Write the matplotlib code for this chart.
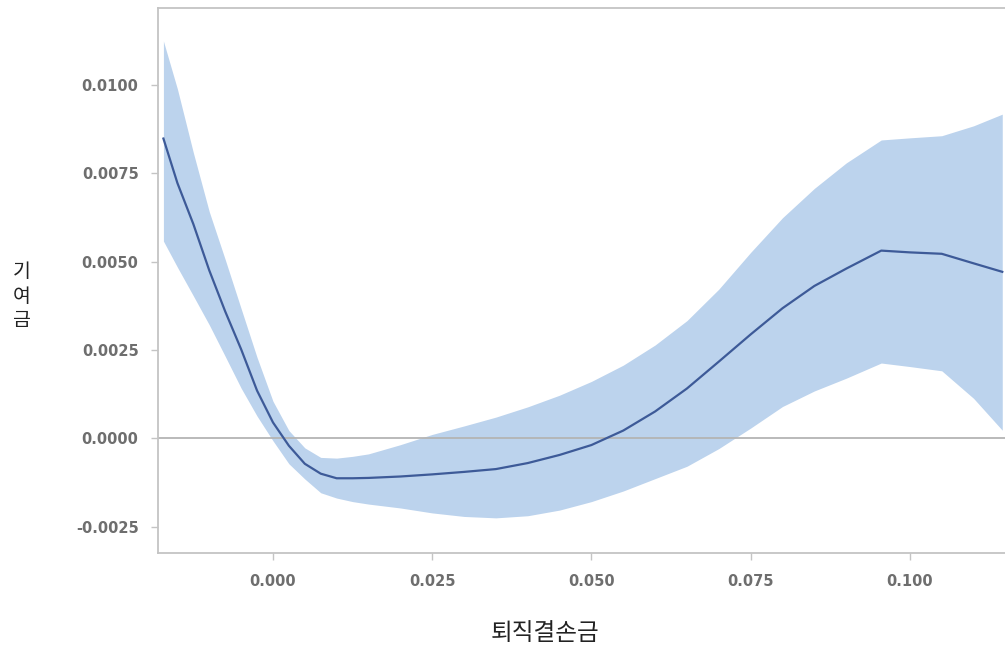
import matplotlib
matplotlib.use("Agg")
import matplotlib.pyplot as plt

plt.rcParams['font.family'] = ['DejaVu Sans']

# x grid (퇴직결손금)
x = [-0.0172, -0.015, -0.0125, -0.01, -0.0075, -0.005, -0.0025, 0.0, 0.0025, 0.005,
     0.0075, 0.01, 0.0125, 0.015, 0.02, 0.025, 0.03, 0.035, 0.04, 0.045,
     0.05, 0.055, 0.06, 0.065, 0.07, 0.075, 0.08, 0.085, 0.09, 0.0955,
     0.1, 0.105, 0.11, 0.1145]

# mean contribution (기여금)
mean = [0.00848, 0.00722, 0.00606, 0.00475, 0.00359, 0.00252, 0.00135, 0.00045, -0.00021, -0.00072,
        -0.00100, -0.00113, -0.00113, -0.00112, -0.00108, -0.00102, -0.00095, -0.00087, -0.00070, -0.00047,
        -0.00019, 0.00022, 0.00076, 0.00141, 0.00217, 0.00294, 0.00368, 0.00431, 0.00480, 0.00531,
        0.00526, 0.00522, 0.00495, 0.00471]

upper = [0.01124, 0.00988, 0.00808, 0.00641, 0.00506, 0.00367, 0.00229, 0.00105, 0.00022, -0.00027,
         -0.00054, -0.00056, -0.00051, -0.00044, -0.00018, 0.00011, 0.00035, 0.00060, 0.00089, 0.00122,
         0.00161, 0.00207, 0.00264, 0.00333, 0.00422, 0.00526, 0.00624, 0.00707, 0.00779, 0.00844,
         0.00850, 0.00856, 0.00884, 0.00917]

lower = [0.00558, 0.00484, 0.00403, 0.00321, 0.00232, 0.00142, 0.00063, -0.00007, -0.00072, -0.00115,
         -0.00154, -0.00169, -0.00179, -0.00186, -0.00197, -0.00211, -0.00221, -0.00225, -0.00219, -0.00203,
         -0.00179, -0.00149, -0.00114, -0.00079, -0.00029, 0.00029, 0.00090, 0.00134, 0.00170, 0.00213,
         0.00203, 0.00191, 0.00113, 0.00023]

xticks = [0.000, 0.025, 0.050, 0.075, 0.100]
xtick_labels = ['0.000', '0.025', '0.050', '0.075', '0.100']
yticks = [-0.0025, 0.0000, 0.0025, 0.0050, 0.0075, 0.0100]
ytick_labels = ['-0.0025', '0.0000', '0.0025', '0.0050', '0.0075', '0.0100']

fig = plt.figure(figsize=(10.05, 6.49), dpi=100)
ax = fig.add_axes([158/1005, 1 - 553/649, 1 - 158/1005, (553 - 8)/649])

ax.fill_between(x, lower, upper, color='#bcd3ed', linewidth=0, zorder=1)
ax.axhline(0, color='#b4b4b4', linewidth=1.3, zorder=2)
ax.plot(x, mean, color='#3d5a98', linewidth=1.6, zorder=3)

ax.set_xlim(-0.01805, 0.11493)
ax.set_ylim(-0.003244, 0.012173)

ax.set_xticks(xticks)
ax.set_xticklabels(xtick_labels)
ax.set_yticks(yticks)
ax.set_yticklabels(ytick_labels)

for s in ['left', 'top', 'bottom']:
    ax.spines[s].set_color('#c4c4c4')
    ax.spines[s].set_linewidth(1.3)
ax.spines['right'].set_visible(False)

ax.tick_params(axis='both', colors='#c4c4c4', labelcolor='#6e6e6e', labelsize=10.5,
               length=5, width=1.0, direction='out')
for lab in ax.get_xticklabels() + ax.get_yticklabels():
    lab.set_fontweight('bold')
ax.tick_params(axis='y', pad=9)
ax.tick_params(axis='x', pad=10)

cjk = ['Noto Sans CJK KR', 'DejaVu Sans']
fig.text(545/1005, 1 - 633/649, '퇴직결손금', ha='center', va='center',
         fontsize=17, family=cjk, color='#222222', fontweight='light')
fig.text(22/1005, 1 - 296/649, '기\n여\n금', ha='center', va='center',
         fontsize=14, family=cjk, color='#222222', fontweight='light', linespacing=1.2)

fig.savefig('out.png', dpi=100)
